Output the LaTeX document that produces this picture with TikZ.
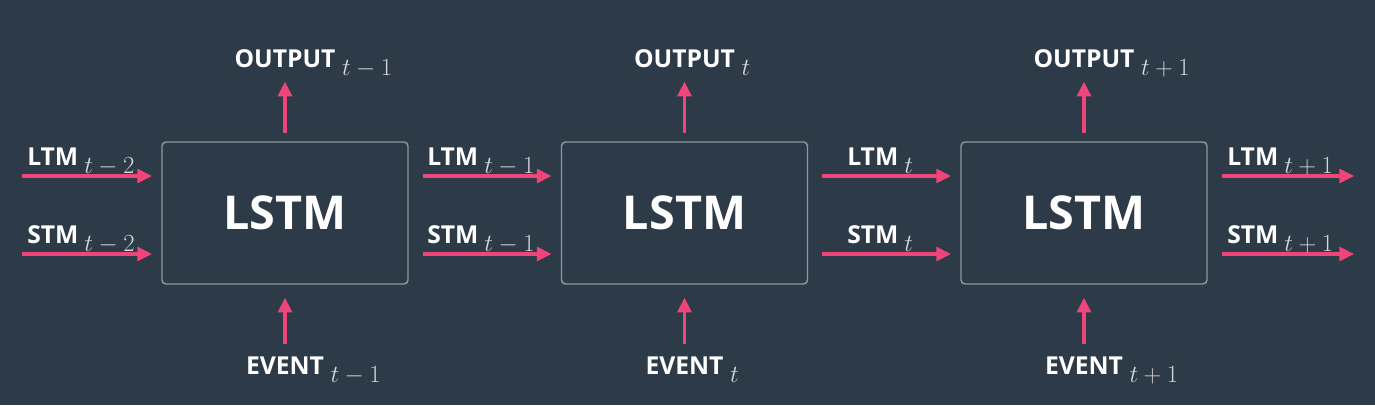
\RequirePackage{fix-cm}
\documentclass[tikz,border=0pt]{standalone}
\usepackage{fontspec}
\setmainfont{Open Sans}
\usetikzlibrary{arrows.meta}
\definecolor{bg}{HTML}{2D3A47}
\definecolor{pinkarrow}{HTML}{F0457A}
\definecolor{boxline}{HTML}{8C979F}
\definecolor{subc}{HTML}{D4D8DC}
\newcommand{\lab}[2]{#1\hspace{4.5pt}\raisebox{-6pt}{\color{subc}\fontsize{18.5}{22}\selectfont$#2$}}
\begin{document}
\begin{tikzpicture}[x=0.75pt,y=-0.75pt,
  lstmbox/.style={draw=boxline, line width=1.1pt, rounded corners=3pt,
    minimum width=184.5pt, minimum height=106.5pt, inner sep=0pt,
    text=white, font=\fontsize{35}{40}\selectfont\bfseries},
  flow/.style={draw=pinkarrow, line width=2.3pt, -{Triangle[length=11pt,width=10.5pt]}},
  lbl/.style={text=white, font=\fontsize{18.5}{22}\selectfont\bfseries, inner sep=0pt},
  sublbl/.style={text=subc, font=\fontsize{18.5}{22}\selectfont, inner sep=0pt, anchor=base west}]
\fill[bg] (0,0) rectangle (1375,405);
\useasboundingbox (0,0) rectangle (1375,405);
% boxes
\node[lstmbox] (b1) at (285,213) {LSTM};
\node[lstmbox] (b2) at (684.5,213) {LSTM};
\node[lstmbox] (b3) at (1084,213) {LSTM};
% free ends
\coordinate (l0) at (22,176);
\coordinate (s0) at (22,254);
\coordinate (l3) at (1354,176);
\coordinate (s3) at (1354,254);
% horizontal arrows
\draw[flow] (l0) -- ([xshift=-7pt]b1.west |- l0);
\draw[flow] (s0) -- ([xshift=-7pt]b1.west |- s0);
\draw[flow] ([xshift=10.5pt]b1.east |- l0) -- ([xshift=-7pt]b2.west |- l0);
\draw[flow] ([xshift=10.5pt]b1.east |- s0) -- ([xshift=-7pt]b2.west |- s0);
\draw[flow] ([xshift=10.5pt]b2.east |- l0) -- ([xshift=-7pt]b3.west |- l0);
\draw[flow] ([xshift=10.5pt]b2.east |- s0) -- ([xshift=-7pt]b3.west |- s0);
\draw[flow] ([xshift=10.5pt]b3.east |- l3) -- (l3);
\draw[flow] ([xshift=10.5pt]b3.east |- s3) -- (s3);
% horizontal labels
\node[lbl, anchor=base west] (tl0) at (27,165) {\lab{LTM}{t-2}};
\node[lbl, anchor=base west] (ts0) at (27,243) {\lab{STM}{t-2}};
\node[lbl, anchor=base west] (tl1) at (427,165) {\lab{LTM}{t-1}};
\node[lbl, anchor=base west] (ts1) at (427,243) {\lab{STM}{t-1}};
\node[lbl, anchor=base west] (tl2) at (847,165) {\lab{LTM}{t}};
\node[lbl, anchor=base west] (ts2) at (847,243) {\lab{STM}{t}};
\node[lbl, anchor=base west] (tl3) at (1227,165) {\lab{LTM}{t+1}};
\node[lbl, anchor=base west] (ts3) at (1227,243) {\lab{STM}{t+1}};
% output / event labels
\node[lbl, anchor=base] (o1) at (285,67) {OUTPUT};
\node[lbl, anchor=base] (o2) at (684.5,67) {OUTPUT};
\node[lbl, anchor=base] (o3) at (1084,67) {OUTPUT};
\node[sublbl] (os1) at ([xshift=4.5pt,yshift=-6pt]o1.base east) {$t-1$};
\node[sublbl] (os2) at ([xshift=4.5pt,yshift=-6pt]o2.base east) {$t$};
\node[sublbl] (os3) at ([xshift=4.5pt,yshift=-6pt]o3.base east) {$t+1$};
\node[lbl, anchor=base] (e1) at (285,374) {EVENT};
\node[lbl, anchor=base] (e2) at (684.5,374) {EVENT};
\node[lbl, anchor=base] (e3) at (1084,374) {EVENT};
\node[sublbl] (es1) at ([xshift=4.5pt,yshift=-6pt]e1.base east) {$t-1$};
\node[sublbl] (es2) at ([xshift=4.5pt,yshift=-6pt]e2.base east) {$t$};
\node[sublbl] (es3) at ([xshift=4.5pt,yshift=-6pt]e3.base east) {$t+1$};
% vertical arrows
\foreach \i in {1,2,3}{
  \draw[flow] ([yshift=6pt]b\i.north) -- ([yshift=-11pt]o\i.base);
  \draw[flow] ([yshift=9pt]e\i.north) -- ([yshift=-9.75pt]b\i.south);
}
\end{tikzpicture}
\end{document}
